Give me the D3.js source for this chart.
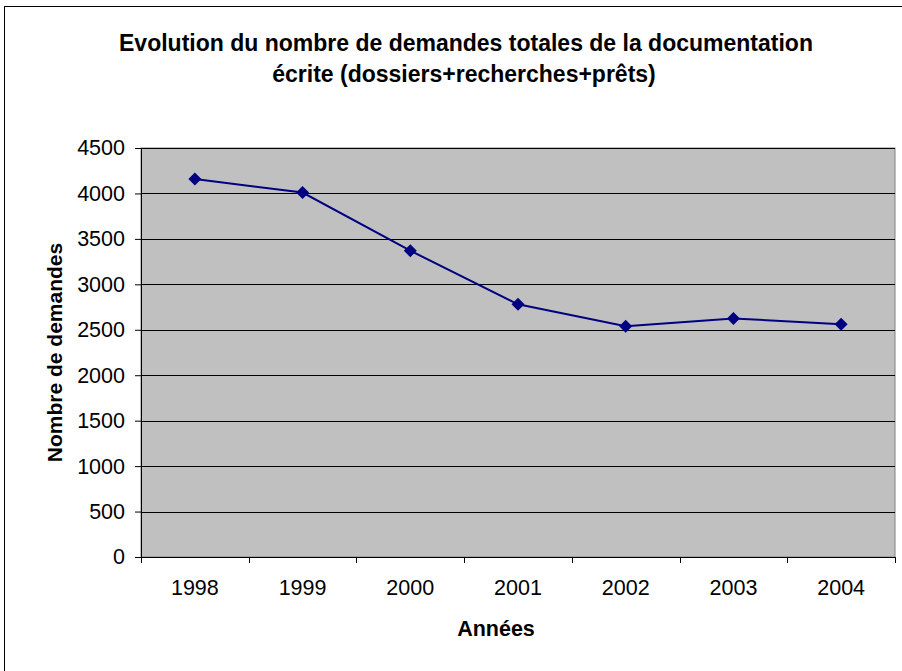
<!DOCTYPE html>
<html>
<head>
<meta charset="utf-8">
<script src="https://cdn.jsdelivr.net/npm/d3@7"></script>
<style>
  body { margin: 0; background: #fff; }
  svg { display: block; font-family: "Liberation Sans", Arial, sans-serif; }
</style>
</head>
<body>
<div id="chart"></div>
<script>
// data
var years = ["1998", "1999", "2000", "2001", "2002", "2003", "2004"];
var demandes = [4160, 4010, 3370, 2780, 2540, 2625, 2560];
var yTicks = [0, 500, 1000, 1500, 2000, 2500, 3000, 3500, 4000, 4500];

var W = 902, H = 671;
var margin = {top: 148, right: 7, bottom: 114, left: 141},
    width = W - margin.left - margin.right,
    height = H - margin.top - margin.bottom;

var svg = d3.select("#chart").append("svg")
    .attr("width", W)
    .attr("height", H);

// outer chart border (runs past the window at right/bottom)
svg.append("rect")
    .attr("x", 4.5).attr("y", 6.5)
    .attr("width", W + 10).attr("height", H + 10)
    .attr("fill", "#fff")
    .attr("stroke", "#000");

var g = svg.append("g")
    .attr("transform", `translate(${margin.left}, ${margin.top})`);

var x = d3.scaleBand().domain(years).range([0, width]);
var y = d3.scaleLinear().domain([0, 4500]).range([height, 0]);

// plot area
g.append("rect")
    .attr("width", width).attr("height", height)
    .attr("fill", "#c0c0c0")
    .attr("stroke", "#808080");

// gridlines
g.selectAll("line.grid")
    .data(yTicks.filter(d => d > 0))
  .enter().append("line")
    .attr("x1", 0).attr("x2", width)
    .attr("y1", d => Math.round(y(d)) + 0.5)
    .attr("y2", d => Math.round(y(d)) + 0.5)
    .attr("stroke", "#000");

// y axis
var yAxis = g.append("g")
    .call(d3.axisLeft(y).tickValues(yTicks).tickFormat(d3.format("d")).tickSize(6).tickPadding(10));
yAxis.selectAll("text").style("font-size", "21.5px").attr("fill", "#000");

// x axis, ticks at category boundaries
var xAxis = g.append("g")
    .attr("transform", `translate(0, ${height})`)
    .call(d3.axisBottom(x).tickSize(0).tickPadding(23));
xAxis.selectAll("text").style("font-size", "21.5px").attr("fill", "#000");
xAxis.selectAll("line.bound")
    .data(d3.range(years.length + 1))
  .enter().append("line")
    .attr("class", "bound")
    .attr("x1", i => Math.round(i * x.step()) + 0.5)
    .attr("x2", i => Math.round(i * x.step()) + 0.5)
    .attr("y1", 0).attr("y2", 6)
    .attr("stroke", "#000");
svg.selectAll(".domain").attr("stroke", "#000");
xAxis.select(".domain").attr("d", `M0,0.5H${width}`);

// line + diamond markers
var pts = years.map((d, i) => ({year: d, v: demandes[i]}));
g.append("path")
    .datum(pts)
    .attr("fill", "none")
    .attr("stroke", "#000080")
    .attr("stroke-width", 2)
    .attr("d", d3.line()
        .x(d => x(d.year) + x.bandwidth() / 2)
        .y(d => y(d.v)));

g.selectAll("path.dot")
    .data(pts)
  .enter().append("path")
    .attr("class", "dot")
    .attr("transform", d => `translate(${x(d.year) + x.bandwidth() / 2}, ${y(d.v)})`)
    .attr("d", "M0,-6.5L6.5,0L0,6.5L-6.5,0Z")
    .attr("fill", "#000080");

// title
var title = svg.append("text")
    .attr("text-anchor", "middle")
    .style("font-size", "23px")
    .style("font-weight", "bold");
title.append("tspan").attr("x", 466).attr("y", 51)
    .text("Evolution du nombre de demandes totales de la documentation");
title.append("tspan").attr("x", 464).attr("y", 82)
    .text("écrite (dossiers+recherches+prêts)");

// axis titles
svg.append("text")
    .attr("transform", `translate(62, ${margin.top + height / 2}) rotate(-90)`)
    .attr("text-anchor", "middle")
    .style("font-size", "21px")
    .style("font-weight", "bold")
    .text("Nombre de demandes");

svg.append("text")
    .attr("x", 496).attr("y", 636)
    .attr("text-anchor", "middle")
    .style("font-size", "21.5px")
    .style("font-weight", "bold")
    .text("Années");
</script>
</body>
</html>
